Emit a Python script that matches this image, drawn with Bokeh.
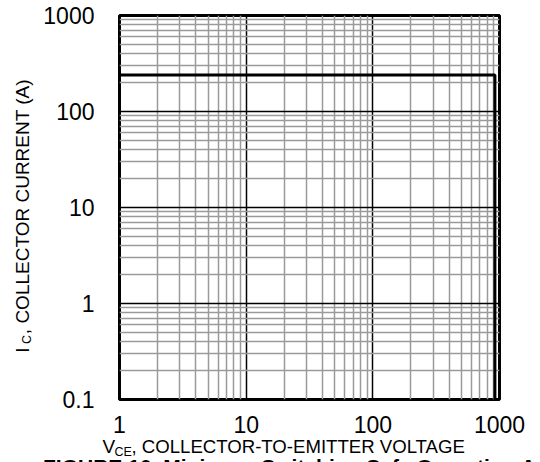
import math
from bokeh.plotting import figure
from bokeh.layouts import row, column
from bokeh.models import FixedTicker, CustomJSTickFormatter, Range1d
from bokeh.core.properties import value
from bokeh.embed import file_html
from bokeh.resources import INLINE

# ---- data ----
x_ticks = [1, 10, 100, 1000]
x_tick_labels = ["1", "10", "100", "1000"]
y_ticks = [0.1, 1, 10, 100, 1000]
y_tick_labels = ["0.1", "1", "10", "100", "1000"]

# safe operating area boundary (VCE in V, IC in A)
soa_vce = [1, 920, 920]
soa_ic = [240, 240, 0.1]

x_title_main = "V"
x_title_sub = "CE"
x_title_rest = ", COLLECTOR-TO-EMITTER VOLTAGE"
y_title_main = "I"
y_title_sub = "C"
y_title_rest = ", COLLECTOR CURRENT (A)"
caption = "FIGURE 10.  Minimum Switching Safe Operating Area"

FONT = "Liberation Sans"

x_minor = [m * 10 ** k for k in range(0, 3) for m in range(2, 10)]
y_minor = [m * 10.0 ** k for k in range(-1, 3) for m in range(2, 10)]

LEFT_W = 40
MAIN_W, MAIN_H = 500, 435
BOT_H = 27

# ---------------- main chart ----------------
p = figure(width=MAIN_W, height=MAIN_H, x_axis_type="log", y_axis_type="log",
           x_range=(1, 1000), y_range=(0.1, 1000),
           output_backend="svg", toolbar_location=None,
           min_border_left=77, min_border_right=41,
           min_border_top=15, min_border_bottom=35)

p.background_fill_color = "white"
p.border_fill_color = "white"
p.outline_line_color = "black"
p.outline_line_width = 3

fmt_code = """
let best = 0, bd = Infinity;
for (let i = 0; i < tvals.length; i++) {
  const d = Math.abs(Math.log10(tick) - Math.log10(tvals[i]));
  if (d < bd) { bd = d; best = i; }
}
return tlabels[best];
"""

p.xaxis.ticker = FixedTicker(ticks=x_ticks, minor_ticks=x_minor)
p.yaxis.ticker = FixedTicker(ticks=y_ticks, minor_ticks=y_minor)
p.xaxis.formatter = CustomJSTickFormatter(args=dict(tvals=x_ticks, tlabels=x_tick_labels), code=fmt_code)
p.yaxis.formatter = CustomJSTickFormatter(args=dict(tvals=y_ticks, tlabels=y_tick_labels), code=fmt_code)

for ax in (p.xaxis, p.yaxis):
    ax.axis_line_color = None
    ax.major_tick_line_color = None
    ax.minor_tick_line_color = None
    ax.major_tick_in = 0
    ax.major_tick_out = 0
    ax.minor_tick_in = 0
    ax.minor_tick_out = 0
    ax.major_label_text_font = FONT
    ax.major_label_text_font_size = "23px"
    ax.major_label_text_color = "black"

p.xaxis.major_label_standoff = 16
p.yaxis.major_label_standoff = 25

for g in (p.xgrid, p.ygrid):
    g.grid_line_color = "black"
    g.grid_line_width = 1.5
    g.minor_grid_line_color = "#9a9a9a"
    g.minor_grid_line_width = 1.5

p.line(soa_vce, soa_ic, line_color="black", line_width=3)


def text_canvas(w, h):
    f = figure(width=w, height=h, x_range=Range1d(0, w), y_range=Range1d(h, 0),
               output_backend="svg", toolbar_location=None,
               min_border=0, x_axis_location=None, y_axis_location=None)
    f.grid.visible = False
    f.outline_line_color = None
    f.background_fill_color = "white"
    f.border_fill_color = "white"
    return f


def put(f, x, y, txt, size, angle=0.0, bold=False, align="left"):
    f.text(x=[x], y=[y], text=[txt], text_font=value(FONT), text_font_size=value(size),
           text_color="black", text_align=align, text_baseline="alphabetic",
           text_font_style="bold" if bold else "normal", angle=angle)


# ---------------- left strip: y title ----------------
left = text_canvas(LEFT_W, MAIN_H)
put(left, 22, 382, y_title_main, "19px", angle=math.pi / 2)
put(left, 26, 372, y_title_sub, "12.5px", angle=math.pi / 2)
put(left, 22, 361, y_title_rest, "19px", angle=math.pi / 2)

# ---------------- bottom strip: x title + caption ----------------
bottom = text_canvas(LEFT_W + MAIN_W, BOT_H)
put(bottom, 102, 11, x_title_main, "19px")
put(bottom, 114, 16, x_title_sub, "12.5px")
put(bottom, 131, 11, x_title_rest, "18.6px")
put(bottom, 308, 31, caption, "21px", bold=True, align="center")

layout = column(row(left, p), bottom)

open("out.html", "w").write(file_html(layout, INLINE))
